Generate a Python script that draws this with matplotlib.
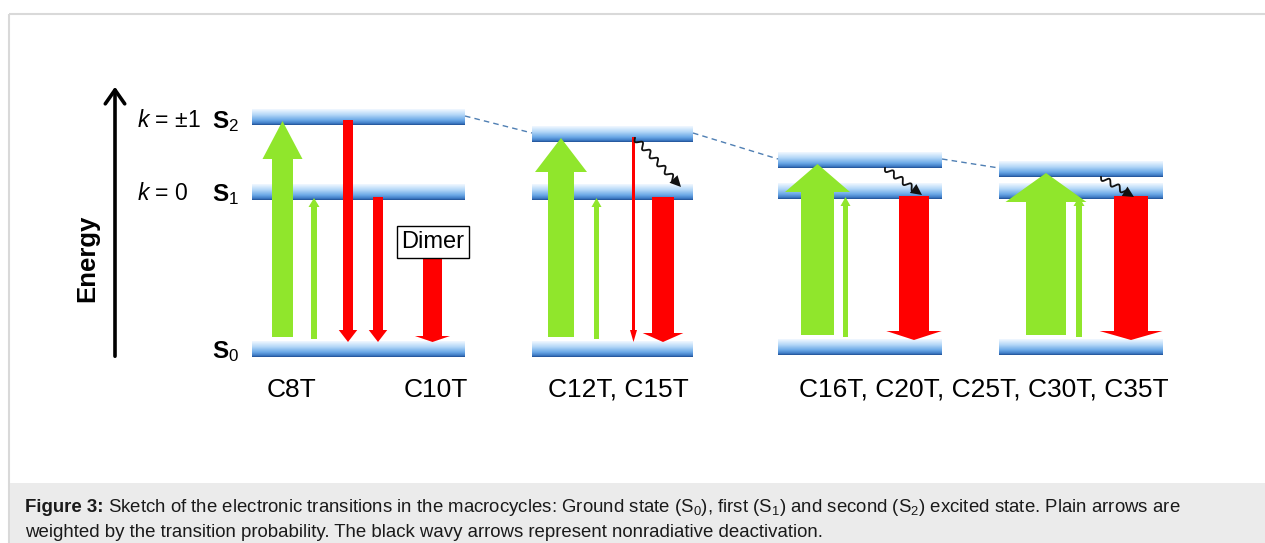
import numpy as np
import matplotlib
matplotlib.use("Agg")
import matplotlib.pyplot as plt
from matplotlib.colors import LinearSegmentedColormap
from matplotlib.patches import FancyArrow, Rectangle, Polygon

plt.rcParams['font.family'] = ['Liberation Sans', 'DejaVu Sans']
plt.rcParams['mathtext.fontset'] = 'custom'
plt.rcParams['mathtext.rm'] = 'Liberation Sans'
plt.rcParams['mathtext.it'] = 'Liberation Sans:italic'
plt.rcParams['mathtext.bf'] = 'Liberation Sans:bold'

# level scheme for each macrocycle group (pixel layout, y grows downward)
group_labels = ['C8T', 'C10T', 'C12T, C15T', 'C16T, C20T, C25T, C30T, C35T']
label_x = [291, 436, 618, 984]
panel_left = [252, 532, 778, 999]
panel_right = [465, 693, 942, 1163]
s0_level = [357, 357, 355, 355]
s1_level = [200, 200, 199, 199]
s2_level = [125, 142, 168, 177]

# absorption arrows: strong S0->S2 and weak S0->S1 (shaft widths = probability)
abs_strong_x = [282.5, 561, 817.5, 1046]
abs_strong_w = [21, 26, 33, 40]
abs_weak_x = [314, 596.5, 845.5, 1079]
abs_weak_w = [6, 5, 5, 6]

# emission arrows: (x, start level, width, group)
emission = [
    (348, 'S2', 10, 0),
    (378, 'S1', 10, 0),
    (432.5, 'D', 19, 0),
    (633.5, 'S2', 3, 1),
    (663, 'S1', 22, 1),
    (914, 'S1', 30, 2),
    (1131, 'S1', 34, 3),
]
dimer_level = 256

# wavy nonradiative S2->S1 arrows: (start, end)
wavy = [((635, 138), (681, 187)), ((885, 168), (922, 195)), ((1101, 177), (1134, 197))]

GREEN = '#90e62c'
RED = '#ff0000'
level_cmap = LinearSegmentedColormap.from_list(
    'lvl', [(0, '#f2f8ff'), (0.35, '#b5d8f8'), (0.7, '#6aa8e6'), (0.9, '#3f7cc6'), (1, '#1f4f93')])

fig = plt.figure(figsize=(12.65, 5.43), dpi=100)
ax = fig.add_axes([0, 0, 1, 1])
ax.set_xlim(0, 1265)
ax.set_ylim(543, 0)
ax.axis('off')

# page frame and caption strip
ax.add_patch(Rectangle((9, 14), 1270, 540, fill=False, ec='#d9d9d9', lw=1.5))
ax.add_patch(Rectangle((9.7, 483), 1260, 62, fc='#ebebeb', ec='none'))

grad = np.linspace(0, 1, 64).reshape(-1, 1)


def level_bar(x0, x1, ybot, h=16):
    ax.imshow(grad, cmap=level_cmap, extent=(x0, x1, ybot, ybot - h),
              origin='upper', aspect='auto', interpolation='bilinear', zorder=1)


for i in range(4):
    for lv in (s0_level[i], s1_level[i], s2_level[i]):
        level_bar(panel_left[i], panel_right[i], lv)

# dashed guide through the S2 levels
for i in range(3):
    ax.plot([panel_right[i], panel_left[i + 1]],
            [s2_level[i] - 9, s2_level[i + 1] - 9],
            ls=(0, (4, 3)), color='#4f7fb3', lw=1, zorder=1)


def arrow(x, y0, y1, w, hw, hl, color):
    ax.add_patch(FancyArrow(x, y0, 0, y1 - y0, width=w, head_width=hw, head_length=hl,
                            length_includes_head=True, fc=color, ec='none', zorder=3))


head_w_strong = [40, 52, 65, 81]
head_l_strong = [38, 34, 28, 29]
for i in range(4):
    arrow(abs_strong_x[i], s0_level[i] - 20, s2_level[i] - 4,
          abs_strong_w[i], head_w_strong[i], head_l_strong[i], GREEN)
    arrow(abs_weak_x[i], s0_level[i] - 18, s1_level[i] - 2,
          abs_weak_w[i], abs_weak_w[i] + 5, 9, GREEN)

for x, start, w, g in emission:
    top = {'S2': s2_level[g] - 5, 'S1': s1_level[g] - 3, 'D': dimer_level}[start]
    hw = w * 1.85 if w > 5 else 7
    hl = 12 if w <= 10 else (6 if start == 'D' else 9)
    arrow(x, top, s0_level[g] - 15, w, hw, hl, RED)

# wavy arrows
for (xa, ya), (xb, yb) in wavy:
    d = np.array([xb - xa, yb - ya], float)
    L = np.hypot(*d)
    u = d / L
    n = np.array([-u[1], u[0]])
    body = L - 10
    t = np.linspace(0, body, 200)
    amp = 2.8 * np.sin(2 * np.pi * t / 11.0)
    pts = np.array([xa, ya]) + np.outer(t, u) + np.outer(amp, n)
    ax.plot(pts[:, 0], pts[:, 1], color='#111111', lw=1.3, zorder=4)
    tip = np.array([xb, yb])
    base = np.array([xa, ya]) + u * (body - 1)
    ax.add_patch(Polygon([tip, base + n * 5.5, base - n * 5.5], closed=True,
                         fc='#111111', ec='none', zorder=4))

# dimer box
ax.text(433, 242, 'Dimer', fontsize=17, ha='center', va='center', zorder=5,
        bbox=dict(boxstyle='square,pad=0.2', fc='white', ec='black', lw=1))

# energy axis
ax.annotate('', xy=(115, 84), xytext=(115, 359),
            arrowprops=dict(arrowstyle='->,head_length=0.5,head_width=0.35',
                            lw=2.6, color='black', mutation_scale=20))
ax.text(87, 258, 'Energy', rotation=90, fontsize=18.5, fontweight='bold',
        ha='center', va='center')

ax.text(137, 127, '$k$ = ±1', fontsize=16.5, va='baseline')
ax.text(137, 200, '$k$ = 0', fontsize=16.5, va='baseline')
ax.text(212, 128, r'$\mathbf{S}_2$', fontsize=17.5, va='baseline')
ax.text(212, 201, r'$\mathbf{S}_1$', fontsize=17.5, va='baseline')
ax.text(212, 358, r'$\mathbf{S}_0$', fontsize=17.5, va='baseline')

for lab, x in zip(group_labels, label_x):
    ax.text(x, 390, lab, fontsize=19, ha='center', va='center')

# caption
cap = ax.text(25, 512, 'Figure 3:', fontsize=13.4, fontweight='bold',
              color='#1a1a1a', va='baseline')
fig.canvas.draw()
bb = cap.get_window_extent()
x_end = ax.transData.inverted().transform((bb.x1, bb.y0))[0]
ax.text(x_end + 4, 512,
        'Sketch of the electronic transitions in the macrocycles: Ground state (S$_0$), '
        'first (S$_1$) and second (S$_2$) excited state. Plain arrows are',
        fontsize=13.4, color='#1a1a1a', va='baseline')
ax.text(25, 537, 'weighted by the transition probability. The black wavy arrows '
        'represent nonradiative deactivation.', fontsize=13.4, color='#1a1a1a', va='baseline')

fig.savefig('out.png', dpi=100)
